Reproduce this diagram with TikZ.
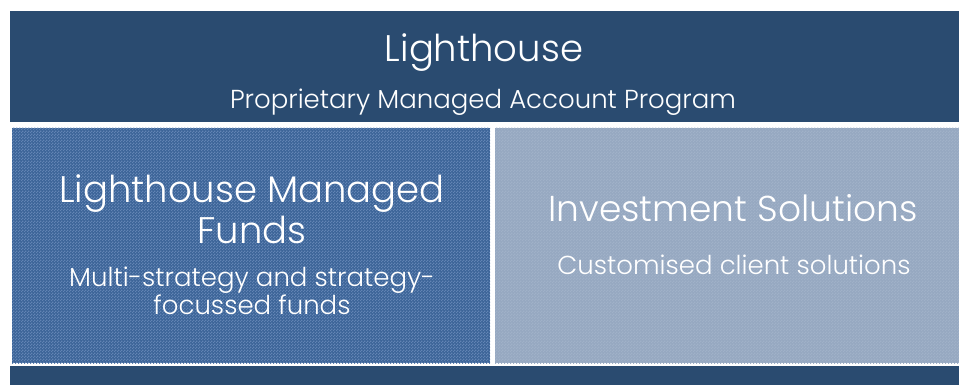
\documentclass[tikz,border=0pt]{standalone}
\usepackage{fontspec}
\IfFontExistsTF{Poppins Light}{\setmainfont{Poppins Light}}{\setmainfont{Poppins}}
\usepackage{tikz}
\usetikzlibrary{patterns}
\usetikzlibrary{positioning}
\definecolor{headblue}{RGB}{42,75,112}
\definecolor{fundsblue}{RGB}{60,100,152}
\definecolor{fundsdots}{RGB}{98,132,180}
\definecolor{solgrey}{RGB}{150,168,193}
\definecolor{soldots}{RGB}{160,177,200}
\pgfdeclarepatternformonly{finecheck}{\pgfpointorigin}{\pgfqpoint{3pt}{3pt}}{\pgfqpoint{3pt}{3pt}}%
{
  \pgfpathrectangle{\pgfpointorigin}{\pgfqpoint{1.5pt}{1.5pt}}
  \pgfpathrectangle{\pgfqpoint{1.5pt}{1.5pt}}{\pgfqpoint{1.5pt}{1.5pt}}
  \pgfusepath{fill}
}
\tikzstyle{panel} = [rectangle, draw=none, inner sep=0pt]
\tikzstyle{bigtext} = [text=white, anchor=base, align=center,
    font=\fontsize{37}{41}\selectfont]
\tikzstyle{smalltext} = [text=white, anchor=base, align=center,
    font=\fontsize{26}{24}\selectfont]

\begin{document}
\begin{tikzpicture}[x=1pt,y=-1pt]
    \useasboundingbox (0,0) rectangle (959,385);
    % Place panels
    \node[panel, fill=headblue, minimum width=949pt, minimum height=111pt] (head) at (484.5,66.5) {};
    \node[panel, fill=fundsblue, postaction={pattern=finecheck, pattern color=fundsdots},
        minimum width=478pt, minimum height=235pt] (funds) at (251,245.5) {};
    \node[panel, fill=solgrey, postaction={pattern=finecheck, pattern color=soldots},
        minimum width=464pt, minimum height=235pt] (sol) at (727,245.5) {};
    \node[panel, fill=headblue, minimum width=949pt, minimum height=19pt] (base) at (484.5,375.5) {};
    % Place texts
    \node[bigtext] (lh) at (484,62) {Lighthouse};
    \node[smalltext] (pmap) at (483,109) {Proprietary Managed Account Program};
    \node[bigtext] (lmf) at (252,243) {Lighthouse Managed\\Funds};
    \node[smalltext] (msf) at (252,314) {Multi-strategy and strategy-\\focussed funds};
    \node[bigtext, font=\fontsize{36}{41}\selectfont] (is) at (733,221) {Investment Solutions};
    \node[smalltext] (ccs) at (734,274) {Customised client solutions};
\end{tikzpicture}
\end{document}
